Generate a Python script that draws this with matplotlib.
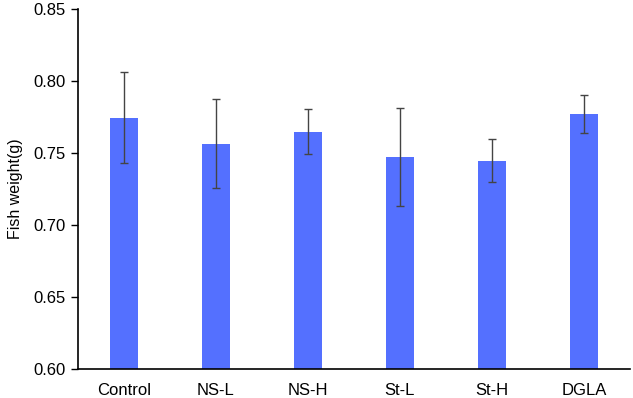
import matplotlib
matplotlib.use("Agg")
import matplotlib.pyplot as plt

categories = ["Control", "NS-L", "NS-H", "St-L", "St-H", "DGLA"]
values = [0.7745, 0.7565, 0.7648, 0.7470, 0.7447, 0.7769]
errors = [0.0317, 0.0310, 0.0157, 0.0340, 0.0150, 0.0133]
yticks = [0.60, 0.65, 0.70, 0.75, 0.80, 0.85]

plt.rcParams['font.family'] = ['Liberation Sans', 'DejaVu Sans']

fig = plt.figure(figsize=(6.33, 3.98), dpi=100)
ax = fig.add_axes([0.123, 0.073, 0.872, 0.904])
x = range(len(categories))
ax.bar(x, values, width=0.31, color="#5470FF", zorder=2)
ax.errorbar(x, values, yerr=errors, fmt="none", ecolor="#444444",
            elinewidth=1.0, capsize=3, capthick=1.0, zorder=3)
ax.set_xlim(-0.5, 5.5)
ax.set_ylim(0.60, 0.85)
ax.set_yticks(yticks)
ax.set_yticklabels([f"{t:.2f}" for t in yticks])
ax.set_xticks(list(x))
ax.set_xticklabels(categories)
ax.tick_params(axis='x', length=0, labelsize=12, pad=10)
ax.tick_params(axis='y', length=5, width=1, labelsize=12, direction='out')
ax.spines['top'].set_visible(False)
ax.spines['right'].set_visible(False)
for s in ('left', 'bottom'):
    ax.spines[s].set_linewidth(1.2)
ax.set_ylabel("Fish weight(g)", fontsize=11.5, labelpad=8)
fig.savefig("out.png", dpi=100)
